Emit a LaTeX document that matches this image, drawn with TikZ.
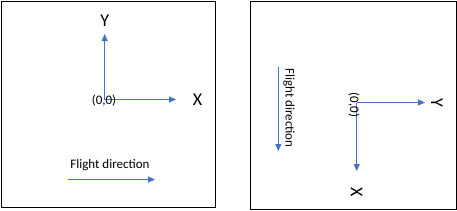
\documentclass[tikz,border=0pt]{standalone}
\usepackage{fontspec}
\setmainfont{Carlito}
\usetikzlibrary{arrows.meta,positioning}

\definecolor{axisblue}{RGB}{68,114,196}

\begin{document}
\begin{tikzpicture}[x=1pt,y=-1pt,
    frame/.style={draw=black,line width=0.9pt},
    axis/.style={draw=axisblue,line width=0.9pt,-{Triangle[length=7pt,width=6pt]}},
    axlabel/.style={font=\fontsize{18}{20}\selectfont,inner sep=0pt},
    small/.style={font=\fontsize{13}{15}\selectfont,inner sep=0pt}]
    \useasboundingbox (0,0) rectangle (457,210);
    % Frames
    \draw[frame] (1.5,1.5) rectangle (215,207);
    \draw[frame] (250.5,1.5) rectangle (456,209);
    % Left: original axes
    \coordinate (oL) at (104.7,99.5);
    \coordinate (yL) at (104.7,34);
    \coordinate (xL) at (176,99.5);
    \draw[axis] (oL) -- (yL);
    \draw[axis] (oL) -- (xL);
    \node[axlabel] (labYL) at (104.7,20.5) {Y};
    \node[axlabel] (labXL) at (197.5,100) {X};
    \node[small] (origL) at (104,100.5) {(0,0)};
    \node[small] (flightL) at (110,165.5) {Flight direction};
    \coordinate (fL1) at (68.3,179.5);
    \coordinate (fL2) at (155,179.5);
    \draw[axis] (fL1) -- (fL2);
    % Right: rotated axes
    \coordinate (oR) at (356.7,102.5);
    \coordinate (yR) at (425,102.5);
    \coordinate (xR) at (356.7,171);
    \draw[axis] (oR) -- (yR);
    \draw[axis] (oR) -- (xR);
    \node[axlabel,rotate=-90] (labYR) at (437,102.5) {Y};
    \node[axlabel,rotate=-90] (labXR) at (356.7,192.5) {X};
    \node[small,rotate=-90] (origR) at (354,105) {(0,0)};
    \node[small,rotate=-90] (flightR) at (289,108) {Flight direction};
    \coordinate (fR1) at (278.3,66.5);
    \coordinate (fR2) at (278.3,151);
    \draw[axis] (fR1) -- (fR2);
\end{tikzpicture}
\end{document}
